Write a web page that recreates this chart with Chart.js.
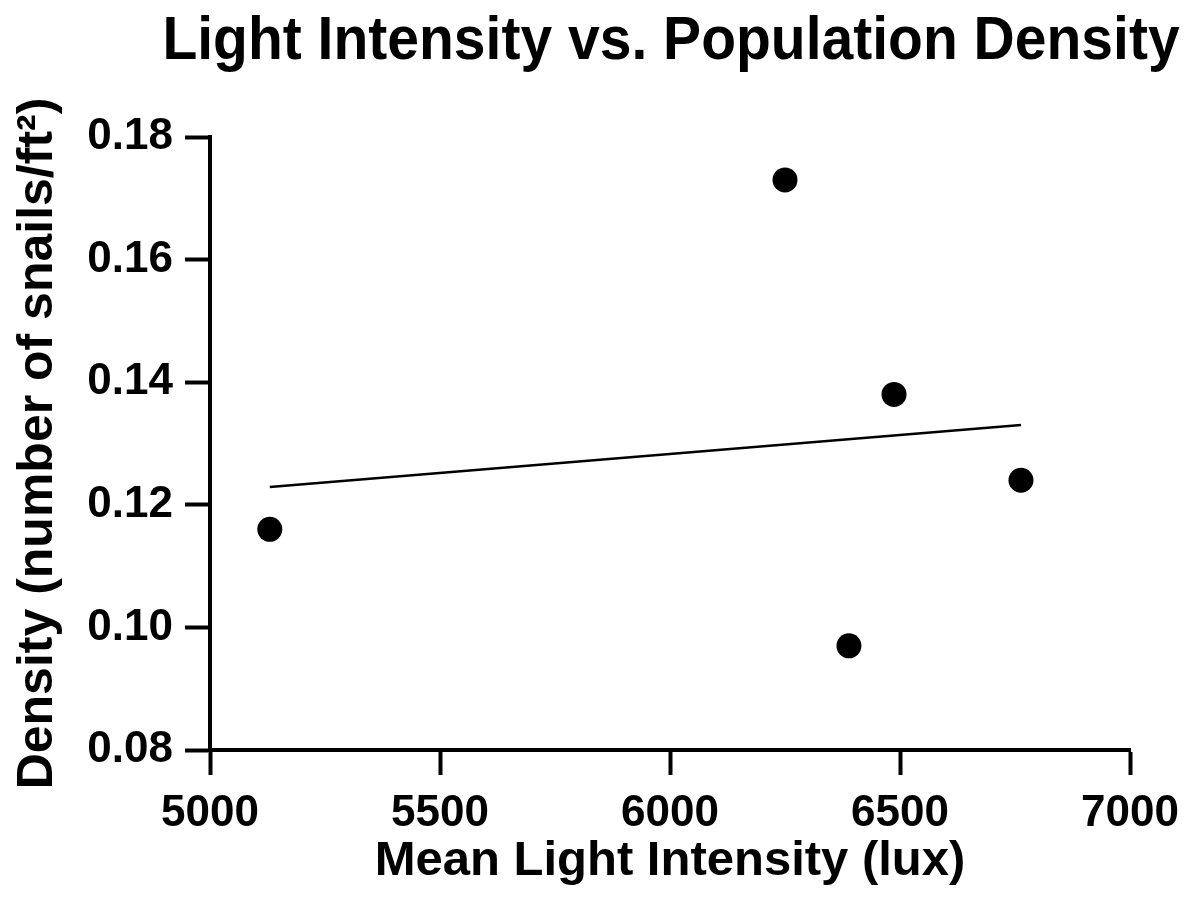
<!DOCTYPE html>
<html>
<head>
<meta charset="utf-8">
<script src="https://cdn.jsdelivr.net/npm/chart.js@4"></script>
<style>
  html, body { margin: 0; padding: 0; background: #ffffff; }
  #wrap { width: 1193px; height: 911px; position: relative; }
</style>
</head>
<body>
<div id="wrap"><canvas id="c"></canvas></div>
<script>
// Data
const lightIntensity = [5130, 6250, 6487, 6763, 6389];
const density = [0.116, 0.173, 0.138, 0.124, 0.097];
// Fitted line endpoints
const fitX = [5130, 6763];
const fitY = [0.1229, 0.1330];
const xTicks = [5000, 5500, 6000, 6500, 7000];
const yTicks = [0.08, 0.10, 0.12, 0.14, 0.16, 0.18];
const chartTitle = 'Light Intensity vs. Population Density';
const xTitle = 'Mean Light Intensity (lux)';
const yTitle = 'Density (number of snails/ft²)';

const FONT = "'Liberation Sans', Arial, Helvetica, sans-serif";

const points = lightIntensity.map((x, i) => ({ x: x, y: density[i] }));
const fitLine = fitX.map((x, i) => ({ x: x, y: fitY[i] }));

// Title centred over the plot area (as in the reference)
const plotTitle = {
  id: 'plotTitle',
  afterDraw(chart) {
    const ctx = chart.ctx;
    const a = chart.chartArea;
    ctx.save();
    ctx.font = 'bold 61px ' + FONT;
    ctx.fillStyle = '#000000';
    ctx.textAlign = 'center';
    ctx.textBaseline = 'alphabetic';
    const cx = (a.left + a.right) / 2 + 1;
    ctx.translate(cx, 59);
    ctx.scale(0.935, 1);
    ctx.fillText(chartTitle, 0, 0);
    ctx.restore();
  }
};

new Chart(document.getElementById('c'), {
  type: 'scatter',
  data: {
    datasets: [
      {
        type: 'line',
        data: fitLine,
        borderColor: '#000000',
        borderWidth: 2.5,
        pointRadius: 0,
        pointHoverRadius: 0,
        fill: false,
        tension: 0
      },
      {
        data: points,
        backgroundColor: '#000000',
        borderColor: '#000000',
        pointRadius: 12.5,
        pointHoverRadius: 12.5,
        borderWidth: 0
      }
    ]
  },
  plugins: [plotTitle],
  options: {
    responsive: true,
    maintainAspectRatio: false,
    animation: false,
    layout: { padding: { left: 0, right: 63, top: 137, bottom: 0 } },
    plugins: {
      legend: { display: false },
      tooltip: { enabled: false },
      title: { display: false }
    },
    scales: {
      x: {
        type: 'linear',
        min: 5000,
        max: 7000,
        afterBuildTicks: (s) => { s.ticks = xTicks.map(v => ({ value: v })); },
        afterFit: (s) => { s.height = 161; },
        border: { display: true, color: '#000000', width: 4 },
        grid: {
          drawOnChartArea: false,
          drawTicks: true,
          tickLength: 25,
          tickWidth: 4,
          tickColor: '#000000',
          color: '#000000'
        },
        ticks: {
          color: '#000000',
          padding: 12,
          maxRotation: 0,
          font: { family: FONT, size: 44, weight: 'bold' },
          callback: (v) => String(v)
        },
        title: {
          display: true,
          text: xTitle,
          color: '#000000',
          font: { family: FONT, size: 49, weight: 'bold', lineHeight: 1.2 },
          padding: { top: 0, bottom: 20 }
        }
      },
      y: {
        type: 'linear',
        min: 0.08,
        max: 0.18,
        afterBuildTicks: (s) => { s.ticks = yTicks.map(v => ({ value: v })); },
        afterFit: (s) => { s.width = 210; },
        border: { display: true, color: '#000000', width: 4 },
        grid: {
          drawOnChartArea: false,
          drawTicks: true,
          tickLength: 25,
          tickWidth: 4,
          tickColor: '#000000',
          color: '#000000'
        },
        ticks: {
          color: '#000000',
          padding: 12,
          font: { family: FONT, size: 44, weight: 'bold' },
          callback: (v) => Number(v).toFixed(2)
        },
        title: {
          display: true,
          text: yTitle,
          color: '#000000',
          font: { family: FONT, size: 50, weight: 'bold', lineHeight: 1.2 },
          padding: { top: 8, bottom: 0 }
        }
      }
    }
  }
});
</script>
</body>
</html>
